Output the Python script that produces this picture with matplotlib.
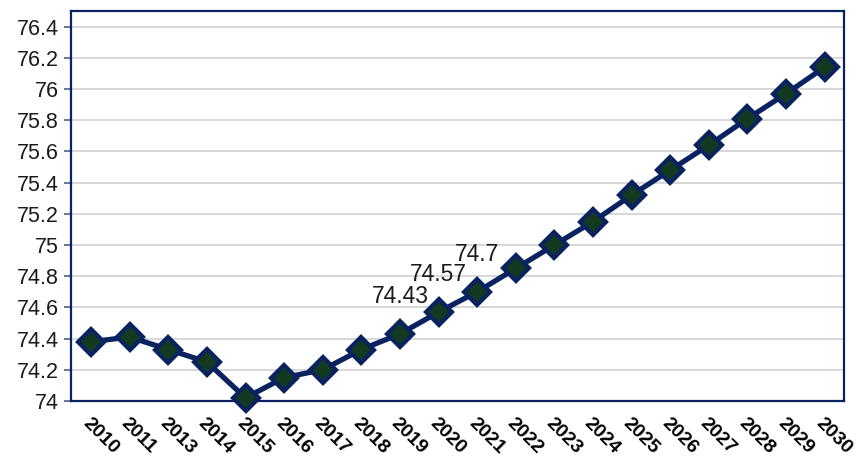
import matplotlib.pyplot as plt
import numpy as np

years = ["2010", "2011", "2013", "2014", "2015", "2016", "2017", "2018", "2019", "2020",
         "2021", "2022", "2023", "2024", "2025", "2026", "2027", "2028", "2029", "2030"]
values = [74.38, 74.41, 74.33, 74.25, 74.02, 74.15, 74.20, 74.33, 74.43, 74.57,
          74.70, 74.85, 75.00, 75.15, 75.32, 75.48, 75.64, 75.81, 75.97, 76.14]
labelled = ["2019", "2020", "2021"]
yticks = [74, 74.2, 74.4, 74.6, 74.8, 75, 75.2, 75.4, 75.6, 75.8, 76, 76.2, 76.4]

NAVY = "#0a2360"

plt.rcParams["font.family"] = ["Liberation Sans", "DejaVu Sans"]
fig = plt.figure(figsize=(8.6, 4.62), dpi=100)
ax = fig.add_axes([71 / 860, 1 - 401 / 462, (844 - 71) / 860, (401 - 11) / 462])

x = np.arange(len(years))
ax.plot(x, values, color=NAVY, lw=3.8, marker="D", ms=13,
        mfc="#133a20", mec=NAVY, mew=3, zorder=3, clip_on=False)

for i, (yr, v) in enumerate(zip(years, values)):
    if yr in labelled:
        ax.annotate("{:g}".format(v), (i, v), xytext=(0, 27), textcoords="offset points",
                    ha="center", va="center", fontsize=16.5, color="#1a1a1a")

ax.set_xlim(-0.52, len(years) - 0.5)
ax.set_ylim(74, 76.5)
ax.set_yticks(yticks)
ax.set_yticklabels(["{:g}".format(t) for t in yticks], fontsize=15.5, color="#1a1a1a")
ax.set_xticks(x)
ax.set_xticklabels(years, rotation=-45, ha="left", va="top", rotation_mode="anchor",
                   fontsize=14, fontweight="bold")
ax.tick_params(axis="x", length=0, pad=10)
ax.tick_params(axis="y", length=5, color="#6b7a99", width=1.5, pad=4)

ax.grid(axis="y", color="#d4d4d4", lw=1.3)
ax.set_axisbelow(True)
for s in ax.spines.values():
    s.set_color(NAVY)
    s.set_linewidth(1.6)

fig.savefig("out.png", dpi=100)
